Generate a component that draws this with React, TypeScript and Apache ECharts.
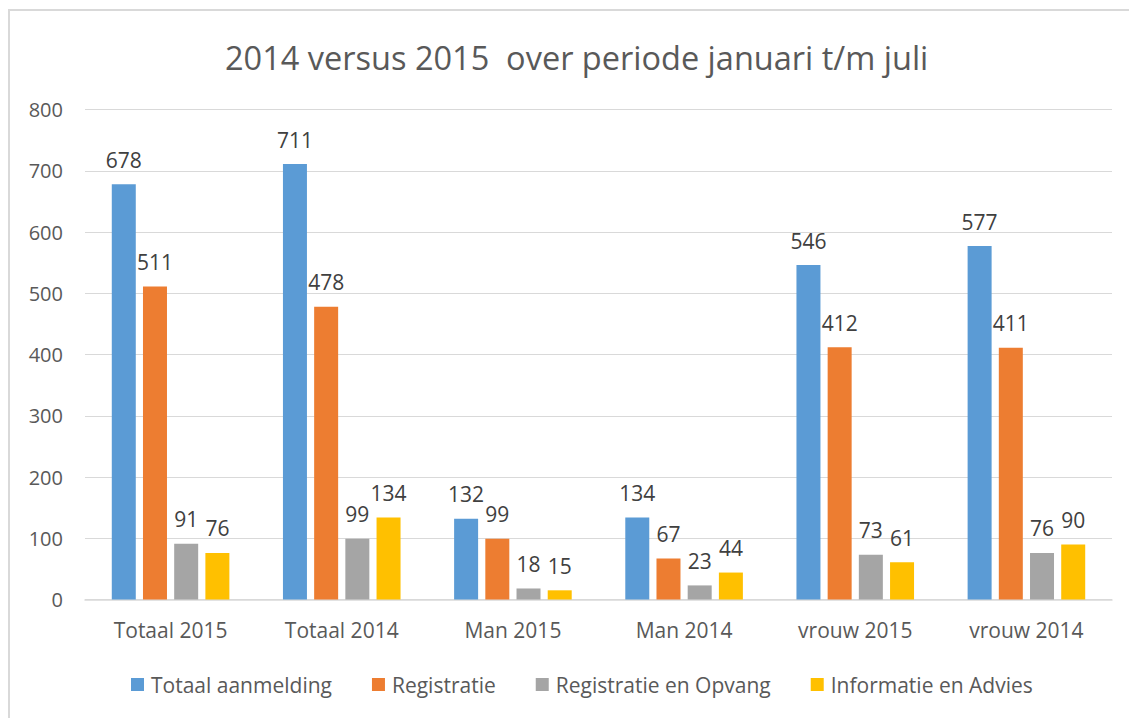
import React, { useEffect, useRef } from "react";
import * as echarts from "echarts";

const categories = ["Totaal 2015", "Totaal 2014", "Man 2015", "Man 2014", "vrouw 2015", "vrouw 2014"];
const seriesNames = ["Totaal aanmelding", "Registratie", "Registratie en Opvang", "Informatie en Advies"];
const totaalAanmelding = [678, 711, 132, 134, 546, 577];
const registratie = [511, 478, 99, 67, 412, 411];
const registratieOpvang = [91, 99, 18, 23, 73, 76];
const informatieAdvies = [76, 134, 15, 44, 61, 90];
const colors = ["#5B9BD5", "#ED7D31", "#A5A5A5", "#FFC000"];

const FONT = "'Open Sans', 'Liberation Sans', sans-serif";

export default function App() {
  const ref = useRef<HTMLDivElement>(null);
  useEffect(() => {
    document.body.style.margin = "0";
    if (!ref.current) return;
    const chart = echarts.init(ref.current, undefined, { renderer: "svg" });
    const values = [totaalAanmelding, registratie, registratieOpvang, informatieAdvies];
    chart.setOption({
      animation: false,
      backgroundColor: "#ffffff",
      title: {
        text: "2014 versus 2015  over periode januari t/m juli",
        left: 220,
        top: 36,
        textStyle: { fontFamily: FONT, fontSize: 32.5, fontWeight: "normal", color: "#595959" },
      },
      graphic: [
        {
          type: "rect",
          shape: { x: 9, y: 10, width: 1140, height: 730 },
          style: { fill: "none", stroke: "#D9D9D9", lineWidth: 2 },
          silent: true,
          z: -1,
        },
      ],
      legend: {
        bottom: 18,
        left: 126,
        itemWidth: 13,
        itemHeight: 13,
        itemGap: 40,
        icon: "rect",
        textStyle: { fontFamily: FONT, fontSize: 21, color: "#595959", padding: [0, 0, 0, 2] },
        data: seriesNames,
      },
      grid: { left: 85, right: 17, top: 109.5, bottom: 118.5, containLabel: false },
      xAxis: {
        type: "category",
        data: categories,
        axisLine: { lineStyle: { color: "#D9D9D9", width: 1.5 } },
        axisTick: { show: false },
        axisLabel: { fontFamily: FONT, fontSize: 21, color: "#595959", margin: 20 },
      },
      yAxis: {
        type: "value",
        min: 0,
        max: 800,
        interval: 100,
        axisLine: { show: false },
        axisTick: { show: false },
        splitLine: { lineStyle: { color: "#D9D9D9", width: 1 } },
        axisLabel: { fontFamily: FONT, fontSize: 20, color: "#595959", margin: 22 },
      },
      series: seriesNames.map((name, i) => ({
        name,
        type: "bar",
        data: values[i],
        barWidth: 24,
        barGap: "30%",
        itemStyle: { color: colors[i] },
        label: {
          show: true,
          position: "top",
          distance: 14,
          fontFamily: FONT,
          fontSize: 21,
          color: "#404040",
        },
      })),
    });
    return () => chart.dispose();
  }, []);
  return <div ref={ref} style={{ width: 1129, height: 718 }} />;
}
